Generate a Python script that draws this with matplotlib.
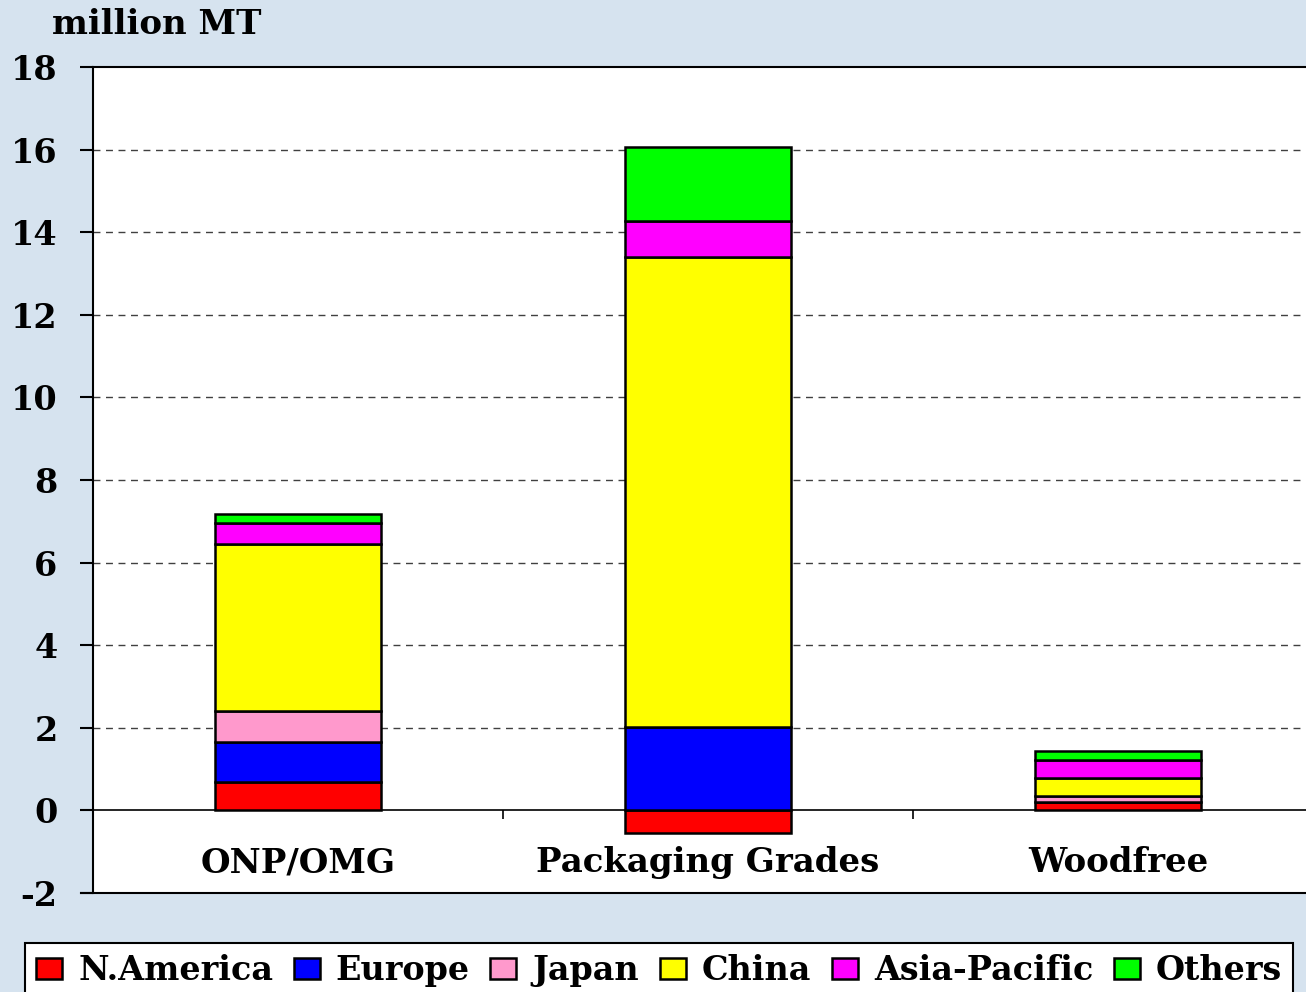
import matplotlib
matplotlib.use("Agg")
import matplotlib.pyplot as plt
import numpy as np

categories = ["ONP/OMG", "Packaging Grades", "Woodfree"]
regions = ["N.America", "Europe", "Japan", "China", "Asia-Pacific", "Others"]
n_america = [0.68, -0.54, 0.21]
europe = [0.97, 2.01, 0.0]
japan = [0.75, 0.0, 0.15]
china = [4.04, 11.39, 0.42]
asia_pacific = [0.51, 0.88, 0.43]
others = [0.22, 1.78, 0.22]
yticks = [-2, 0, 2, 4, 6, 8, 10, 12, 14, 16, 18]

series = [n_america, europe, japan, china, asia_pacific, others]
colors = ["#FF0000", "#0000FF", "#FF99CC", "#FFFF00", "#FF00FF", "#00FF00"]

plt.rcParams['font.family'] = ['DejaVu Serif']
plt.rcParams['font.weight'] = 'bold'

bg = "#D6E3EF"
fig = plt.figure(figsize=(13.06, 9.92), dpi=100, facecolor=bg)
W, H = 1306, 992
left, right, top, bottom = 93, 1323, 67, 893
ax = fig.add_axes([left / W, 1 - bottom / H, (right - left) / W, (bottom - top) / H])
ax.set_facecolor("white")

x = np.arange(len(categories))
pos_base = np.zeros(len(categories))
neg_base = np.zeros(len(categories))
for vals, col, name in zip(series, colors, regions):
    vals = np.array(vals, dtype=float)
    base = np.where(vals >= 0, pos_base, neg_base)
    ax.bar(x, vals, width=0.405, bottom=base, color=col, edgecolor="black",
           linewidth=1.8, label=name, zorder=3)
    pos_base = pos_base + np.where(vals >= 0, vals, 0)
    neg_base = neg_base + np.where(vals < 0, vals, 0)

ax.set_xlim(-0.5, 2.5)
ax.set_ylim(-2, 18)
ax.set_yticks(yticks)
ax.set_yticklabels([str(t) for t in yticks], fontsize=24, fontweight='bold')
for t in yticks[2:-1]:
    ax.axhline(t, color="#404040", linestyle=(0, (5, 4)), linewidth=1.0, zorder=1)
ax.axhline(0, color="black", linewidth=1.2, zorder=2)

ax.spines['right'].set_visible(False)
ax.spines['bottom'].set_visible(False)
ax.spines['left'].set_linewidth(1.5)
ax.spines['top'].set_linewidth(1.5)
ax.plot([-0.53, 2.5], [-2, -2], color="black", linewidth=1.5, clip_on=False, zorder=4)

ax.set_xticks([])
ax.vlines([0.5, 1.5], -0.22, 0, color="black", linewidth=1.2, zorder=2)
ax.tick_params(axis='y', direction='out', length=9.5, width=1.5, pad=16)

for xi, c in zip(x, categories):
    ax.text(xi, -1.27, c, ha='center', va='center', fontsize=24.5, fontweight='bold')

fig.text(52 / W, 1 - 25 / H, "million MT", fontsize=24.5, fontweight='bold', ha='left', va='center')

leg = fig.legend(loc='upper left', bbox_to_anchor=(25 / W, 1 - 943 / H),
                 ncol=6, frameon=True, fancybox=False, framealpha=1,
                 edgecolor='black', handlelength=0.78, handleheight=0.6, handletextpad=0.48,
                 columnspacing=0.62, borderpad=0.33, borderaxespad=0,
                 prop={'weight': 'bold', 'size': 24})
leg.get_frame().set_linewidth(1.5)

fig.savefig("out.png", dpi=100, facecolor=bg)
